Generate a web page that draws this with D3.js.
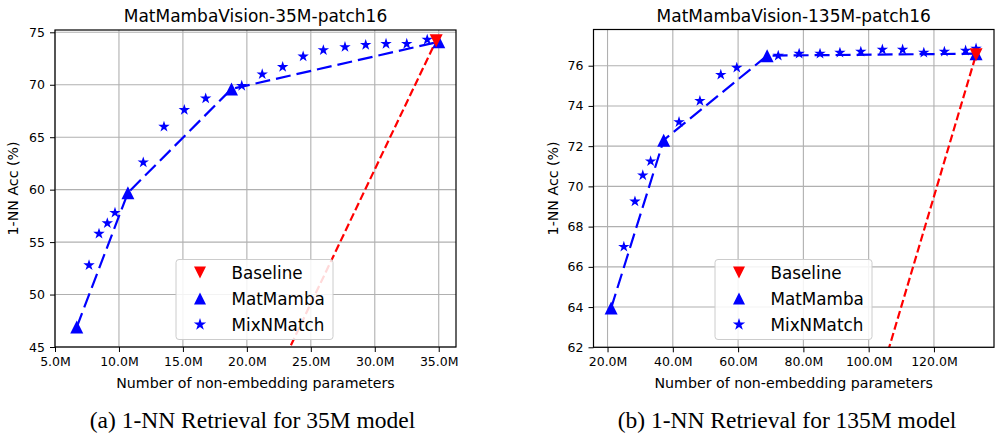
<!DOCTYPE html>
<html>
<head>
<meta charset="utf-8">
<script src="https://cdn.jsdelivr.net/npm/d3@7"></script>
<style>
  html, body { margin: 0; padding: 0; background: #fff; }
  svg { display: block; }
</style>
</head>
<body>
<div id="chart"></div>
<script>
(function () {
  "use strict";

  // ---- data ----
  // 35M model, x in millions of non-embedding params, y = 1-NN acc (%)
  var mm35X = [6.7, 10.7, 18.8, 35.0];
  var mm35Y = [46.9, 59.7, 69.6, 74.1];
  var mix35X = [7.66, 8.44, 9.09, 9.69, 11.9, 13.52, 15.11, 16.78, 19.6, 21.2, 22.8, 24.4, 25.98, 27.67, 29.29, 30.88, 32.5, 34.1];
  var mix35Y = [52.8, 55.8, 56.8, 57.8, 62.6, 66.0, 67.6, 68.7, 69.9, 71.0, 71.7, 72.7, 73.3, 73.6, 73.8, 73.9, 73.9, 74.3];
  var base35X = [18.8, 34.8];
  var base35Y = [33.3, 74.2];
  var ticks35X = [5, 10, 15, 20, 25, 30, 35];
  var ticks35Y = [45, 50, 55, 60, 65, 70, 75];

  // 135M model
  var mm135X = [21.1, 37.2, 68.9, 132.9];
  var mm135Y = [63.95, 72.3, 76.5, 76.6];
  var mix135X = [25.0, 28.4, 30.8, 33.2, 41.9, 48.3, 54.7, 59.6, 72.3, 78.7, 85.1, 91.2, 97.6, 104.2, 110.4, 116.9, 123.2, 129.7, 132.9];
  var mix135Y = [67.0, 69.25, 70.55, 71.25, 73.2, 74.25, 75.55, 75.9, 76.5, 76.6, 76.6, 76.65, 76.7, 76.8, 76.8, 76.65, 76.7, 76.75, 76.85];
  var base135X = [68.8, 132.9];
  var base135Y = [41.5, 76.55];
  var ticks135X = [20, 40, 60, 80, 100, 120];
  var ticks135Y = [62, 64, 66, 68, 70, 72, 74, 76];

  var legendLabels = ["Baseline", "MatMamba", "MixNMatch"];

  var W = 1000, H = 433;
  var SANS = "'DejaVu Sans', sans-serif";
  var SERIF = "'Liberation Serif', 'Times New Roman', serif";
  var BLUE = "#0000ff", RED = "#ff0000";

  var svg = d3.select("#chart").append("svg")
    .attr("width", W).attr("height", H)
    .attr("viewBox", [0, 0, W, H]);

  function zip(xs, ys) {
    return xs.map(function (x, i) { return { x: x, y: ys[i] }; });
  }

  // matplotlib-like triangle: bbox centred on the point
  function triPath(m, down) {
    var h = m / 2;
    var s = down ? -1 : 1;
    return "M0," + (-h * s) + "L" + (-h) + "," + (h * s) + "L" + h + "," + (h * s) + "Z";
  }
  function starPath(r) {
    return d3.symbol().type(d3.symbolStar).size(r * r / 0.8908)();
  }

  function drawPanel(cfg, idx) {
    var x = d3.scaleLinear().domain(cfg.xDomain).range([cfg.left, cfg.right]);
    var y = d3.scaleLinear().domain(cfg.yDomain).range([cfg.bottom, cfg.top]);
    var g = svg.append("g");

    var clipId = "clip" + idx;
    svg.append("clipPath").attr("id", clipId)
      .append("rect")
      .attr("x", cfg.left).attr("y", cfg.top)
      .attr("width", cfg.right - cfg.left).attr("height", cfg.bottom - cfg.top);

    // grid
    g.append("g").selectAll("line").data(cfg.ticksX).join("line")
      .attr("x1", function (d) { return x(d); }).attr("x2", function (d) { return x(d); })
      .attr("y1", cfg.top).attr("y2", cfg.bottom)
      .attr("stroke", "#b0b0b0").attr("stroke-width", 1.1);
    g.append("g").selectAll("line").data(cfg.ticksY).join("line")
      .attr("y1", function (d) { return y(d); }).attr("y2", function (d) { return y(d); })
      .attr("x1", cfg.left).attr("x2", cfg.right)
      .attr("stroke", "#b0b0b0").attr("stroke-width", 1.1);

    // axes
    var xAxis = d3.axisBottom(x).tickValues(cfg.ticksX)
      .tickFormat(function (d) { return d.toFixed(1) + "M"; })
      .tickSize(5).tickPadding(5);
    var yAxis = d3.axisLeft(y).tickValues(cfg.ticksY)
      .tickFormat(d3.format("d")).tickSize(5).tickPadding(5);

    var gx = g.append("g").attr("transform", "translate(0," + cfg.bottom + ")").call(xAxis);
    var gy = g.append("g").attr("transform", "translate(" + cfg.left + ",0)").call(yAxis);
    [gx, gy].forEach(function (a) {
      a.select(".domain").remove();
      a.selectAll("text").attr("font-family", SANS).attr("font-size", 12.5).attr("fill", "#000");
      a.selectAll("line").attr("stroke", "#000").attr("stroke-width", 1);
    });

    // plot content (clipped)
    var plot = g.append("g").attr("clip-path", "url(#" + clipId + ")");
    var line = d3.line().x(function (d) { return x(d.x); }).y(function (d) { return y(d.y); });

    plot.append("path").datum(cfg.mm)
      .attr("d", line).attr("fill", "none")
      .attr("stroke", BLUE).attr("stroke-width", 2.2)
      .attr("stroke-dasharray", "15,6");
    plot.append("path").datum(cfg.base)
      .attr("d", line).attr("fill", "none")
      .attr("stroke", RED).attr("stroke-width", 2.2)
      .attr("stroke-dasharray", "8,3.5");

    plot.append("g").selectAll("path").data(cfg.mm).join("path")
      .attr("d", triPath(13, false))
      .attr("transform", function (d) { return "translate(" + x(d.x) + "," + y(d.y) + ")"; })
      .attr("fill", BLUE);
    plot.append("g").selectAll("path").data(cfg.mix).join("path")
      .attr("d", starPath(6))
      .attr("transform", function (d) { return "translate(" + x(d.x) + "," + y(d.y) + ")"; })
      .attr("fill", BLUE);
    plot.append("g").selectAll("path").data(cfg.base).join("path")
      .attr("d", triPath(13, true))
      .attr("transform", function (d) { return "translate(" + x(d.x) + "," + y(d.y) + ")"; })
      .attr("fill", RED);

    // frame
    g.append("rect")
      .attr("x", cfg.left).attr("y", cfg.top)
      .attr("width", cfg.right - cfg.left).attr("height", cfg.bottom - cfg.top)
      .attr("fill", "none").attr("stroke", "#000").attr("stroke-width", 1.2);

    // legend
    var lg = g.append("g").attr("transform", "translate(" + cfg.legendX + "," + cfg.legendY + ")");
    lg.append("rect")
      .attr("width", 157).attr("height", 80).attr("rx", 3)
      .attr("fill", "#fff").attr("fill-opacity", 0.85)
      .attr("stroke", "#cccccc").attr("stroke-width", 1);
    var marks = [
      { d: triPath(12, true), c: RED },
      { d: triPath(12, false), c: BLUE },
      { d: starPath(6.5), c: BLUE }
    ];
    legendLabels.forEach(function (lab, i) {
      var cy = 13 + i * 26;
      lg.append("path").attr("d", marks[i].d)
        .attr("transform", "translate(24," + cy + ")").attr("fill", marks[i].c);
      lg.append("text").attr("x", 55.5).attr("y", cy + 6)
        .attr("font-family", SANS).attr("font-size", 16.8).attr("fill", "#000")
        .text(lab);
    });

    var cx = (cfg.left + cfg.right) / 2;
    var cyMid = (cfg.top + cfg.bottom) / 2;

    g.append("text").attr("x", cx).attr("y", 21.5)
      .attr("text-anchor", "middle").attr("font-family", SANS).attr("font-size", 17)
      .attr("fill", "#000").text(cfg.title);
    g.append("text").attr("x", cx).attr("y", 388)
      .attr("text-anchor", "middle").attr("font-family", SANS).attr("font-size", 14.2)
      .attr("fill", "#000").text("Number of non-embedding parameters");
    g.append("text")
      .attr("transform", "translate(" + cfg.yLabelX + "," + cyMid + ") rotate(-90)")
      .attr("text-anchor", "middle").attr("font-family", SANS).attr("font-size", 14.2)
      .attr("fill", "#000").text("1-NN Acc (%)");

    g.append("text").attr("x", cfg.captionX).attr("y", 428)
      .attr("text-anchor", "middle").attr("font-family", SERIF).attr("font-size", 23.5)
      .attr("fill", "#000").text(cfg.caption);
  }

  drawPanel({
    title: "MatMambaVision-35M-patch16",
    caption: "(a) 1-NN Retrieval for 35M model",
    xDomain: [5.0, 36.35], yDomain: [45, 75.22],
    left: 55, right: 456, top: 30, bottom: 347,
    ticksX: ticks35X, ticksY: ticks35Y,
    mm: zip(mm35X, mm35Y), mix: zip(mix35X, mix35Y), base: zip(base35X, base35Y),
    legendX: 176, legendY: 259.5, yLabelX: 17.5, captionX: 252.5
  }, 0);

  drawPanel({
    title: "MatMambaVision-135M-patch16",
    caption: "(b) 1-NN Retrieval for 135M model",
    xDomain: [15.7, 138.4], yDomain: [62, 77.8],
    left: 593.5, right: 994, top: 29.5, bottom: 347.3,
    ticksX: ticks135X, ticksY: ticks135Y,
    mm: zip(mm135X, mm135Y), mix: zip(mix135X, mix135Y), base: zip(base135X, base135Y),
    legendX: 715, legendY: 259.5, yLabelX: 558, captionX: 787
  }, 1);
})();
</script>
</body>
</html>
